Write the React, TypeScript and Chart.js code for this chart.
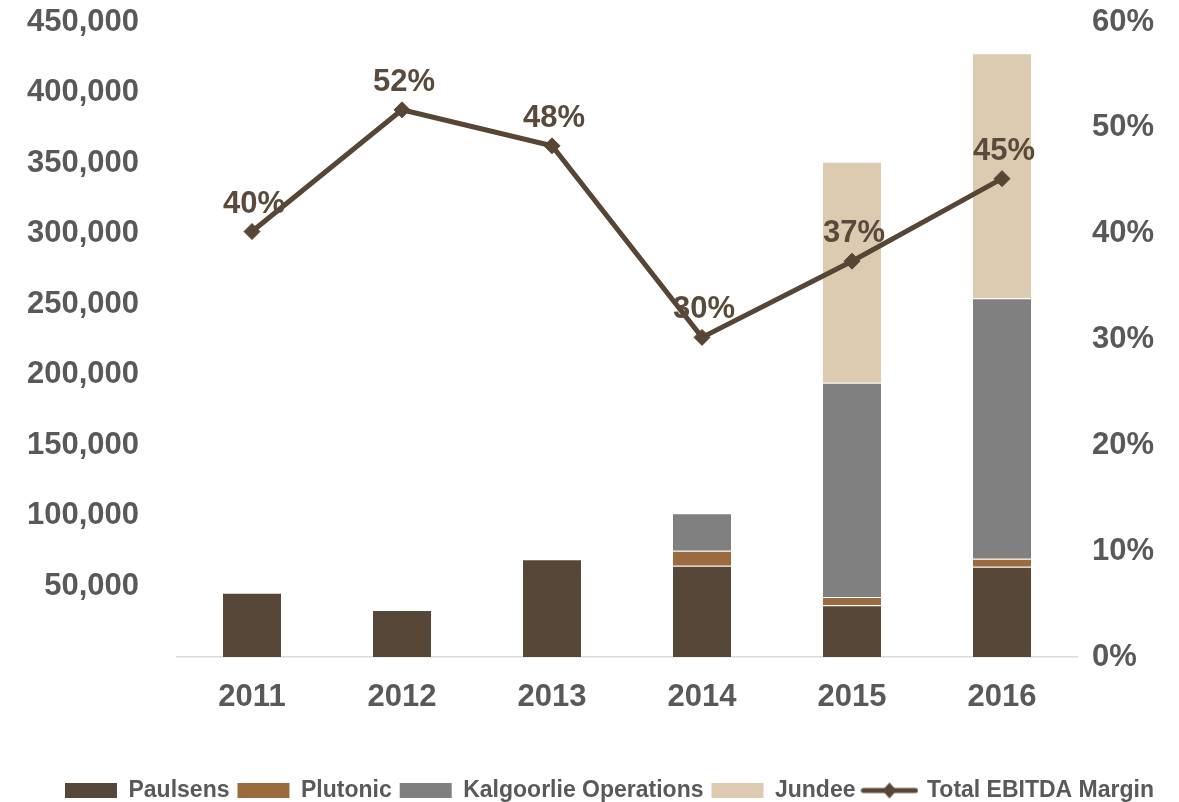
import React, { useEffect, useRef } from "react";
import { Chart, registerables } from "chart.js";

Chart.register(...registerables);

const years = ["2011", "2012", "2013", "2014", "2015", "2016"];
const paulsens = [45600, 33300, 69200, 64700, 36600, 64000];
const plutonic = [0, 0, 0, 10600, 5900, 5700];
const kalgoorlie = [0, 0, 0, 26500, 151900, 184500];
const jundee = [0, 0, 0, 0, 156600, 173600];
const ebitdaMargin = [40.2, 51.7, 48.3, 30.2, 37.4, 45.2];
const marginLabels = ["40%", "52%", "48%", "30%", "37%", "45%"];

const FONT = '"Liberation Sans", Arial, sans-serif';
const LINE_COLOR = "#574536";

function makeLineLegendIcon(): HTMLCanvasElement {
  const c = document.createElement("canvas");
  c.width = 58;
  c.height = 20;
  const ctx = c.getContext("2d")!;
  ctx.strokeStyle = LINE_COLOR;
  ctx.lineWidth = 5;
  ctx.lineCap = "round";
  ctx.beginPath();
  ctx.moveTo(3, 10);
  ctx.lineTo(55, 10);
  ctx.stroke();
  ctx.fillStyle = LINE_COLOR;
  ctx.beginPath();
  ctx.moveTo(29, 2);
  ctx.lineTo(36, 10);
  ctx.lineTo(29, 18);
  ctx.lineTo(22, 10);
  ctx.closePath();
  ctx.fill();
  return c;
}

const marginLabelPlugin = {
  id: "marginLabels",
  afterDatasetsDraw(chart: any) {
    const meta = chart.getDatasetMeta(4);
    const ctx = chart.ctx;
    ctx.save();
    ctx.font = `bold 31px ${FONT}`;
    ctx.fillStyle = "#5a4a3c";
    ctx.textAlign = "center";
    ctx.textBaseline = "alphabetic";
    meta.data.forEach((pt: any, i: number) => {
      ctx.fillText(marginLabels[i], pt.x + 2, pt.y - 19);
    });
    ctx.restore();
  },
};

const legendShiftPlugin = {
  id: "legendShift",
  afterLayout(chart: any) {
    if (chart.legend) {
      chart.legend.top += 10;
      chart.legend.bottom += 10;
      chart.legend.left += 20;
      chart.legend.right += 20;
    }
  },
};

const noOverflow = (s: any) => {
  s.paddingTop = 0;
  s.paddingBottom = 0;
  s.paddingLeft = 0;
  s.paddingRight = 0;
};

export default function App() {
  const canvasRef = useRef<HTMLCanvasElement | null>(null);

  useEffect(() => {
    document.body.style.margin = "0";
    const lineIcon = makeLineLegendIcon();
    const barBorder = "rgba(255,255,255,0.35)";
    const chart = new Chart(canvasRef.current!, {
      type: "bar",
      data: {
        labels: years,
        datasets: [
          { label: "Paulsens", data: paulsens, backgroundColor: "#574739", borderColor: barBorder, borderWidth: 1, yAxisID: "y", order: 1 },
          { label: "Plutonic", data: plutonic, backgroundColor: "#9b6b40", borderColor: barBorder, borderWidth: 1, yAxisID: "y", order: 1 },
          { label: "Kalgoorlie Operations", data: kalgoorlie, backgroundColor: "#808080", borderColor: barBorder, borderWidth: 1, yAxisID: "y", order: 1 },
          { label: "Jundee", data: jundee, backgroundColor: "#ddcbb1", borderColor: barBorder, borderWidth: 1, yAxisID: "y", order: 1 },
          {
            type: "line",
            label: "Total EBITDA Margin",
            data: ebitdaMargin,
            borderColor: LINE_COLOR,
            backgroundColor: LINE_COLOR,
            borderWidth: 5,
            pointStyle: "rectRot",
            pointRadius: 8,
            pointBackgroundColor: LINE_COLOR,
            pointBorderColor: LINE_COLOR,
            pointBorderWidth: 1,
            tension: 0,
            yAxisID: "y1",
            order: 0,
          } as any,
        ],
      },
      options: {
        animation: false,
        responsive: true,
        maintainAspectRatio: false,
        layout: { padding: { top: 22, left: 0, right: 0, bottom: 0 } },
        scales: {
          x: {
            stacked: true,
            grid: { display: false, drawTicks: false },
            border: { display: true, color: "#d9d9d9", width: 1.5 },
            ticks: { color: "#595959", font: { family: FONT, size: 31, weight: "bold" }, padding: 22 },
            afterFit: (s: any) => { s.height = 104; noOverflow(s); },
          },
          y: {
            stacked: true,
            position: "left",
            min: 0,
            max: 450000,
            grid: { display: false, drawTicks: false },
            border: { display: false },
            ticks: {
              stepSize: 50000,
              color: "#595959",
              font: { family: FONT, size: 31, weight: "bold" },
              padding: 38,
              callback: (v: any) => (Number(v) === 0 ? "" : Number(v).toLocaleString("en-US")),
            },
            afterFit: (s: any) => { s.width = 177; noOverflow(s); },
          },
          y1: {
            position: "right",
            min: 0,
            max: 60,
            grid: { display: false, drawTicks: false },
            border: { display: false },
            ticks: {
              stepSize: 10,
              color: "#595959",
              font: { family: FONT, size: 31, weight: "bold" },
              padding: 15,
              callback: (v: any) => `${v}%`,
            },
            afterFit: (s: any) => { s.width = 102; noOverflow(s); },
          },
        },
        datasets: { bar: { barPercentage: 0.4, categoryPercentage: 1 } } as any,
        plugins: {
          tooltip: { enabled: false },
          legend: {
            position: "bottom",
            labels: {
              usePointStyle: true,
              pointStyleWidth: 52,
              boxHeight: 15,
              padding: 8,
              color: "#595959",
              font: { family: FONT, size: 23, weight: "bold" },
              sort: (a: any, b: any) => a.datasetIndex - b.datasetIndex,
              generateLabels: (chart: any) => {
                const items = Chart.defaults.plugins.legend.labels.generateLabels(chart);
                return items.map((it: any) => {
                  if (it.datasetIndex === 4) {
                    return { ...it, pointStyle: lineIcon, lineWidth: 0 };
                  }
                  return { ...it, pointStyle: "rect", lineWidth: 0, strokeStyle: "rgba(0,0,0,0)" };
                });
              },
            },
          },
        },
      },
      plugins: [marginLabelPlugin, legendShiftPlugin],
    });
    return () => chart.destroy();
  }, []);

  return (
    <div style={{ position: "fixed", left: 0, top: 0, width: 1179, height: 802, background: "#fff" }}>
      <canvas ref={canvasRef} />
    </div>
  );
}
